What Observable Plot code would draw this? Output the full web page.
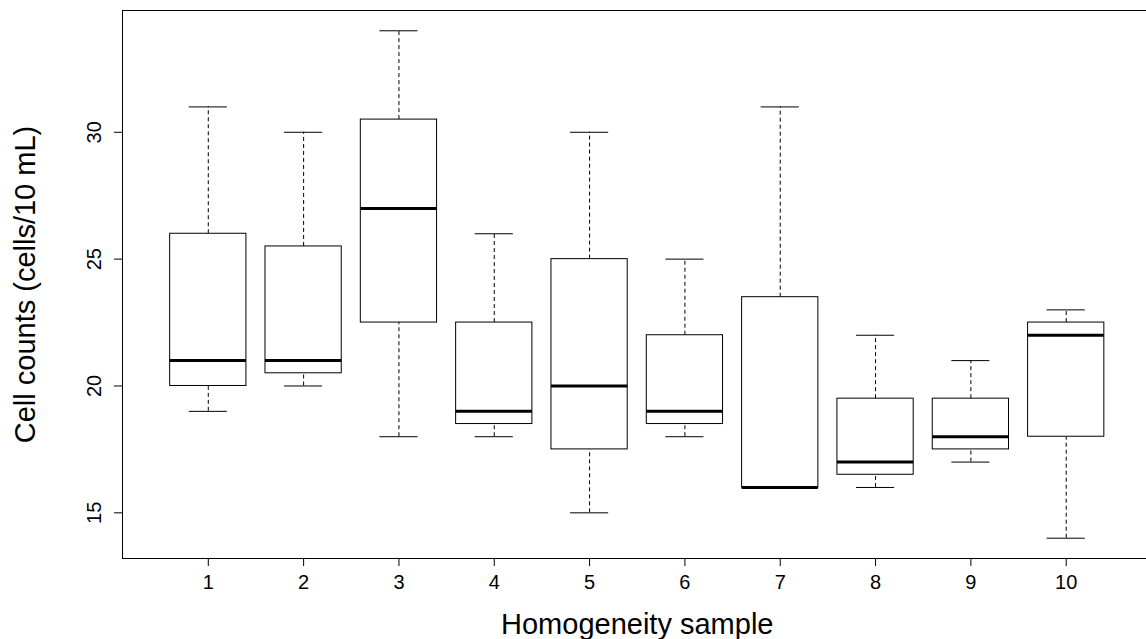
<!DOCTYPE html>
<html>
<head>
<meta charset="utf-8">
<script src="https://cdn.jsdelivr.net/npm/d3@7"></script>
<script src="https://cdn.jsdelivr.net/npm/@observablehq/plot@0.6"></script>
<style>
  html, body { margin: 0; padding: 0; background: #fff; }
  svg { display: block; }
</style>
</head>
<body>
<script>
const samples = [1, 2, 3, 4, 5, 6, 7, 8, 9, 10];
const maxV    = [31, 30, 34, 26, 30, 25, 31, 22, 21, 23];
const q3V     = [26, 25.5, 30.5, 22.5, 25, 22, 23.5, 19.5, 19.5, 22.5];
const medV    = [21, 21, 27, 19, 20, 19, 16, 17, 18, 22];
const q1V     = [20, 20.5, 22.5, 18.5, 17.5, 18.5, 16, 16.5, 17.5, 18];
const minV    = [19, 20, 18, 18, 15, 18, 16, 16, 17, 14];
const yTicks  = [15, 20, 25, 30];
const xTitle = "Homogeneity sample";
const yTitle = "Cell counts (cells/10 mL)";

const data = samples.map((s, i) => ({s, max: maxV[i], q3: q3V[i], med: medV[i], q1: q1V[i], min: minV[i]}));

// R-style ranges: category range [0.5, 10.5] and data range extended by 4%
const xLo = d3.min(samples) - 0.5, xHi = d3.max(samples) + 0.5;
const xPad = (xHi - xLo) * 0.04;
const yLo = d3.min(minV), yHi = d3.max(maxV);
const yPad = (yHi - yLo) * 0.04;
const boxHalf = 0.4, capHalf = 0.2;

const font = "'Liberation Sans', Arial, Helvetica, sans-serif";

const chart = Plot.plot({
  width: 1146,
  height: 639,
  marginLeft: 122,
  marginRight: -5.5,
  marginTop: 10,
  marginBottom: 81,
  style: {fontFamily: font, fontSize: "20px", background: "#fff", color: "#000"},
  x: {domain: [xLo - xPad, xHi + xPad]},
  y: {domain: [yLo - yPad, yHi + yPad]},
  marks: [
    // whiskers
    Plot.ruleX(data, {x: "s", y1: "q3", y2: "max", stroke: "#000", strokeWidth: 1, strokeDasharray: "4,3"}),
    Plot.ruleX(data, {x: "s", y1: "min", y2: "q1", stroke: "#000", strokeWidth: 1, strokeDasharray: "4,3"}),
    // caps
    Plot.ruleY(data, {y: "max", x1: d => d.s - capHalf, x2: d => d.s + capHalf, stroke: "#000", strokeWidth: 1}),
    Plot.ruleY(data, {y: "min", x1: d => d.s - capHalf, x2: d => d.s + capHalf, stroke: "#000", strokeWidth: 1}),
    // boxes
    Plot.rect(data, {x1: d => d.s - boxHalf, x2: d => d.s + boxHalf, y1: "q1", y2: "q3", fill: "#fff", stroke: "#000", strokeWidth: 1}),
    // medians
    Plot.ruleY(data, {y: "med", x1: d => d.s - boxHalf, x2: d => d.s + boxHalf, stroke: "#000", strokeWidth: 3}),
    // frame
    Plot.frame({stroke: "#000", strokeWidth: 1}),
    // axes
    Plot.axisY(yTicks, {tickSize: 8, tickRotate: -90, tickPadding: 14, fontSize: 20, label: null, stroke: "#000"}),
    Plot.axisX(samples, {tickSize: 8, tickPadding: 8, fontSize: 20, label: null, stroke: "#000"}),
    // titles
    Plot.text([xTitle], {x: () => (xLo + xHi) / 2, frameAnchor: "bottom", dy: 75, lineAnchor: "bottom", textAnchor: "middle", text: d => d, fontSize: 29, fill: "#000"}),
    Plot.text([yTitle], {frameAnchor: "left", dx: -88, rotate: -90, lineAnchor: "bottom", textAnchor: "middle", text: d => d, fontSize: 29, fill: "#000"})
  ]
});
document.body.appendChild(chart);
</script>
</body>
</html>
